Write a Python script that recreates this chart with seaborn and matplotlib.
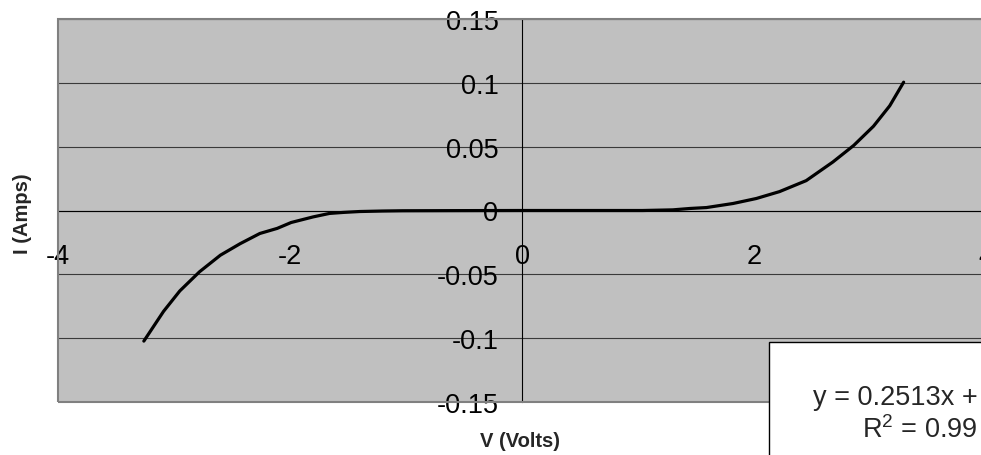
import matplotlib
matplotlib.use("Agg")
import pandas as pd
import seaborn as sns
import matplotlib.pyplot as plt
from matplotlib.patches import Rectangle

# diode I-V readings
volts = [-3.26, -3.09, -2.95, -2.78, -2.60, -2.43, -2.26, -2.11, -1.99, -1.80,
         -1.66, -1.54, -1.40, -1.20, -1.03, -0.60, 0.0, 0.13, 0.60, 1.04,
         1.30, 1.45, 1.59, 1.82, 2.02, 2.22, 2.45, 2.68, 2.86, 3.03, 3.17, 3.29]
amps = [-0.1023, -0.079, -0.063, -0.048, -0.035, -0.026, -0.018, -0.014, -0.0094, -0.005,
        -0.0023, -0.0015, -0.0008, -0.0004, -0.0002, -0.0001, 0.0, 0.0, 0.0, 0.0,
        0.0005, 0.0016, 0.0023, 0.0055, 0.0094, 0.0148, 0.0234, 0.038, 0.051, 0.066, 0.082, 0.1005]
x_ticks = [-4, -2, 0, 2, 4]
y_ticks = [-0.15, -0.1, -0.05, 0, 0.05, 0.1, 0.15]
y_labels = ['-0.15', '-0.1', '-0.05', '0', '0.05', '0.1', '0.15']
# trendline label, only the part that shows inside the picture
fit_eq = "y = 0.2513x +"
fit_r2 = "R$^2$ = 0.99"

df = pd.DataFrame({"V": volts, "I": amps})

sns.set_style("white")
plt.rcParams['font.family'] = ['Liberation Sans', 'DejaVu Sans']
plt.rcParams['axes.unicode_minus'] = False
plt.rcParams['mathtext.fontset'] = 'custom'
plt.rcParams['mathtext.rm'] = 'Liberation Sans'

fig = plt.figure(figsize=(9.81, 4.56), dpi=100)
ax = fig.add_axes([58/981, 53/456, 928/981, 383/456])
ax.set_facecolor('#C0C0C0')

sns.lineplot(data=df, x="V", y="I", sort=False, estimator=None, color='#000080', lw=1, ax=ax, zorder=3)
sns.lineplot(data=df, x="V", y="I", sort=False, estimator=None, color='black', lw=2.3, ax=ax, zorder=4)

ax.set_xlim(-4, 4)
ax.set_ylim(-0.15, 0.15)
ax.set_xticks(x_ticks)
ax.set_yticks(y_ticks)
ax.set_yticklabels(y_labels)
ax.set_xlabel("")
ax.set_ylabel("")

for s in ['top', 'right']:
    ax.spines[s].set_visible(False)
for s in ['left', 'bottom']:
    ax.spines[s].set_position(('data', 0))
    ax.spines[s].set_color('black')
    ax.spines[s].set_linewidth(0.8)
    ax.spines[s].set_zorder(2)

ax.yaxis.grid(True, color='#3a3a3a', lw=0.8)
ax.xaxis.grid(False)
ax.set_axisbelow(True)
ax.tick_params(axis='x', direction='out', length=6, width=0.8, pad=17.5, labelsize=19.5, colors='black')
ax.tick_params(axis='y', direction='out', length=6, width=0.8, pad=11, labelsize=19.5, colors='black')

ax.add_patch(Rectangle((0, 0), 1, 1, transform=ax.transAxes, fill=False,
                       edgecolor='#808080', lw=1.5, clip_on=False, zorder=5))

fig.text(23/981, 1 - 214/456, "I (Amps)", rotation=90, ha='center', va='center',
         fontsize=14.5, fontweight='bold')
fig.text(520/981, 1 - 442/456, "V (Volts)", ha='center', va='center',
         fontsize=14.5, fontweight='bold')

# trendline label box
fig.add_artist(Rectangle((769/981, -0.1), 1, (456 - 343)/456 + 0.1, transform=fig.transFigure,
                         facecolor='white', edgecolor='black', lw=1, zorder=10))
fig.text(813/981, 1 - 398/456, fit_eq, ha='left', va='center', fontsize=19.5, zorder=11)
fig.text(862/981, 1 - 430/456, fit_r2, ha='left', va='center', fontsize=19.5, zorder=11)

fig.savefig("out.png", dpi=100)
